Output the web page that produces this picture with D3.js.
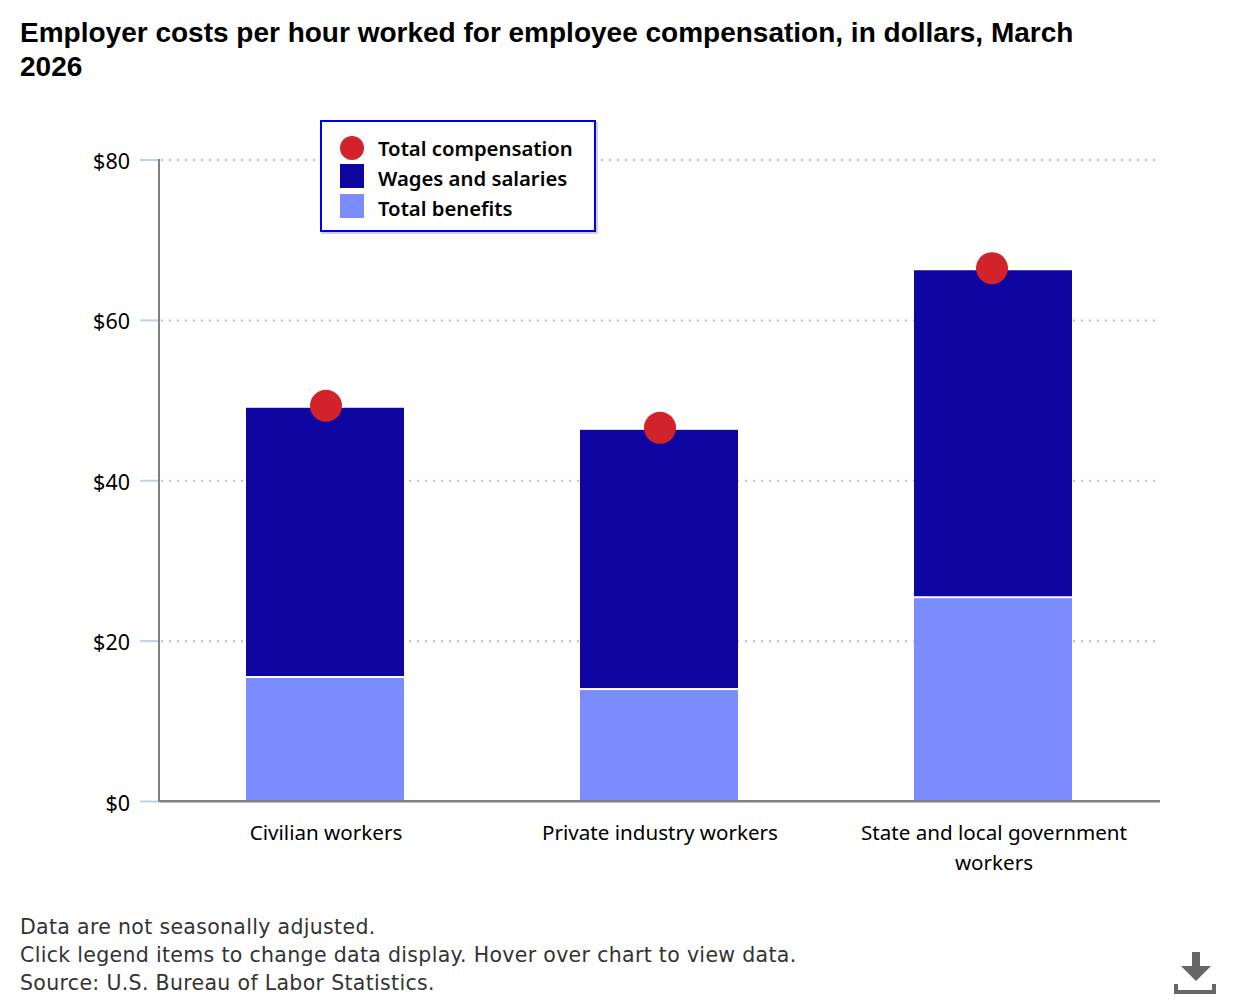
<!DOCTYPE html>
<html>
<head>
<meta charset="utf-8">
<script src="https://cdn.jsdelivr.net/npm/d3@7"></script>
<style>
html,body{margin:0;padding:0;background:#fff;}
svg{display:block;}
text{font-family:"Noto Sans","Open Sans",sans-serif;}
</style>
</head>
<body>
<svg id="chart" width="1240" height="1000"></svg>
<script>
const categories = [["Civilian workers"], ["Private industry workers"], ["State and local government", "workers"]];
const totalCompensation = [49.35, 46.6, 66.5];
const wagesAndSalaries = [33.7, 32.45, 40.9];
const totalBenefits = [15.65, 14.15, 25.6];
const yTicks = [0, 20, 40, 60, 80];
const legendLabels = ["Total compensation", "Wages and salaries", "Total benefits"];
const titleLines = ["Employer costs per hour worked for employee compensation, in dollars, March", "2026"];
const noteLines = ["Data are not seasonally adjusted.", "Click legend items to change data display. Hover over chart to view data.", "Source: U.S. Bureau of Labor Statistics."];

const svg = d3.select("#chart");
const x = d3.scaleBand().domain(d3.range(categories.length)).range([159, 1160]);
const y = d3.scaleLinear().domain([0, 80]).range([801.5, 160]);
const barW = 158;
const gap = 2; // white rule separating stacked segments
const barLeft = i => Math.round(x(i) + x.bandwidth() / 2 - barW / 2 - 0.5);
const cx = i => barLeft(i) + barW / 2;

svg.append("g").selectAll("text").data(titleLines).join("text")
  .attr("x", 20).attr("y", (d, i) => 42 + i * 33.5)
  .style("font-family", "Liberation Sans, Arial, sans-serif")
  .style("font-size", "28px").style("font-weight", 700).attr("fill", "#000").text(d => d);

// Dotted gridlines behind the bars
svg.append("g").selectAll("line").data(yTicks.filter(d => d > 0)).join("line")
  .attr("x1", 161).attr("x2", 1156)
  .attr("y1", d => y(d)).attr("y2", d => y(d))
  .attr("stroke", "#bdbdbd").attr("stroke-width", 2).attr("stroke-dasharray", "2 6");

// Stacked bars: benefits at the bottom, wages above
svg.append("g").selectAll("rect").data(totalBenefits).join("rect")
  .attr("x", (d, i) => barLeft(i)).attr("width", barW)
  .attr("y", d => y(d) + gap).attr("height", d => y(0) - y(d) - gap).attr("fill", "#7b8cff");
svg.append("g").selectAll("rect").data(wagesAndSalaries).join("rect")
  .attr("x", (d, i) => barLeft(i)).attr("width", barW)
  .attr("y", (d, i) => y(d + totalBenefits[i]) + gap).attr("height", d => y(0) - y(d) - gap)
  .attr("fill", "#0f05a0");

// Axes
const axisG = svg.append("g");
axisG.selectAll(".tick").data(yTicks).join("line").attr("class", "tick")
  .attr("x1", 140).attr("x2", 159).attr("y1", d => y(d)).attr("y2", d => y(d))
  .attr("stroke", "#c0d0e0").attr("stroke-width", 2);
axisG.append("line").attr("x1", 159).attr("x2", 159).attr("y1", 159).attr("y2", 802).attr("stroke", "#808080").attr("stroke-width", 2);
axisG.append("line").attr("x1", 160).attr("x2", 1160).attr("y1", 802).attr("y2", 802).attr("stroke", "#c0c0c0").attr("stroke-width", 2);
axisG.append("line").attr("x1", 159).attr("x2", 1160).attr("y1", 801).attr("y2", 801).attr("stroke", "#808080").attr("stroke-width", 2);
axisG.selectAll(".ylab").data(yTicks).join("text").attr("class", "ylab")
  .attr("x", 130).attr("y", d => y(d) + 9).attr("text-anchor", "end")
  .style("font-size", "21.5px").attr("fill", "#000").text(d => "$" + d);

// Category labels
svg.append("g").selectAll("text").data(categories).join("text")
  .attr("text-anchor", "middle").style("font-size", "20.6px").attr("fill", "#000")
  .attr("y", 840)
  .each(function (lines, i) {
    d3.select(this).selectAll("tspan").data(lines).join("tspan")
      .attr("x", cx(i) + 1).attr("dy", (d, j) => j ? 30 : 0).text(d => d);
  });

// Total compensation markers
svg.append("g").selectAll("circle").data(totalCompensation).join("circle")
  .attr("cx", (d, i) => cx(i) + (i === 2 ? -1 : 1)).attr("cy", d => y(d)).attr("r", 16).attr("fill", "#d3232a");

// Legend box with its soft shadow
const lg = svg.append("g");
lg.append("rect").attr("x", 321).attr("y", 122).attr("width", 277).attr("height", 112).attr("fill", "#000").attr("opacity", .18);
lg.append("rect").attr("x", 321).attr("y", 121).attr("width", 274).attr("height", 110).attr("fill", "#fff").attr("stroke", "#0000f0").attr("stroke-width", 2);
lg.append("circle").attr("cx", 352).attr("cy", 148).attr("r", 12).attr("fill", "#d3232a");
lg.append("rect").attr("x", 340).attr("y", 164).attr("width", 24).attr("height", 24).attr("fill", "#0f05a0");
lg.append("rect").attr("x", 340).attr("y", 194).attr("width", 24).attr("height", 24).attr("fill", "#7b8cff");
lg.selectAll("text").data(legendLabels).join("text")
  .attr("x", 378).attr("y", (d, i) => 156 + i * 30)
  .style("font-size", "20.3px").style("font-weight", 600).attr("fill", "#000").text(d => d);

// Footnotes
svg.append("g").selectAll("text").data(noteLines).join("text")
  .attr("x", 20).attr("y", (d, i) => 934 + i * 28)
  .style("font-family", "DejaVu Sans, sans-serif").style("letter-spacing", "0.32px")
  .style("font-size", "20.5px").attr("fill", "#333").text(d => d);

// Download icon
const icon = svg.append("g").attr("fill", "#666");
icon.append("path").attr("d", "M1192 952h8v14h11l-15 15l-15-15h11z");
icon.append("path").attr("d", "M1174 984h4v6h34v-6h4v10h-42z");
</script>
</body>
</html>
